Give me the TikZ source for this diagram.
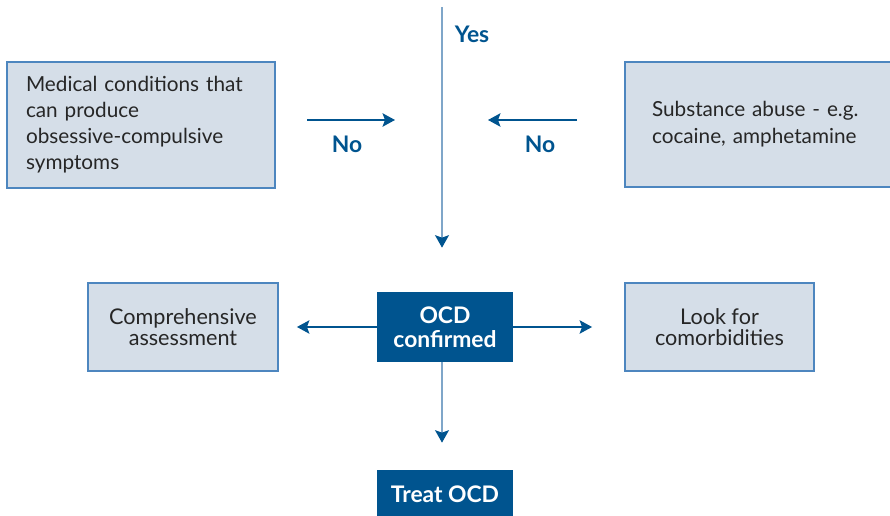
\documentclass[tikz,border=0pt]{standalone}
\usepackage{fontspec}
\setmainfont{Lato}
\usetikzlibrary{arrows.meta}
\definecolor{boxfill}{HTML}{D5DEE8}
\definecolor{boxline}{HTML}{4D86BF}
\definecolor{ocdblue}{HTML}{00548F}
\definecolor{vlineblue}{HTML}{7FA6C9}
\tikzset{
  lightbox/.style={draw=boxline, fill=boxfill, line width=1.1pt, text=black!85},
  darkbox/.style={fill=ocdblue, text=white, font=\fontsize{13}{13.5}\selectfont\bfseries, align=center},
  arr/.style={draw=ocdblue, line width=0.7pt, -{Stealth[length=0.25cm, width=0.27cm, inset=0.05cm]}},
  vline/.style={draw=vlineblue, line width=0.9pt, -{Stealth[length=0.25cm, width=0.28cm, inset=0.05cm, fill=ocdblue, color=ocdblue]}},
  answer/.style={text=ocdblue, font=\fontsize{13}{14}\selectfont\bfseries}
}
\begin{document}
\begin{tikzpicture}[x=0.02cm, y=-0.02cm]
    \useasboundingbox (0,0) rectangle (890,516);
    % question boxes
    \node [lightbox, minimum width=5.36cm, minimum height=2.52cm, text width=4.6cm, align=left,
           font=\fontsize{11.8}{14.8}\selectfont] (medical) at (141,125)
           {Medical conditions that\\can produce\\obsessive-compulsive\\symptoms};
    \node [lightbox, minimum width=5.34cm, minimum height=2.5cm, text width=4.26cm, align=left,
           font=\fontsize{11.8}{15.2}\selectfont] (substance) at (758.5,124.5)
           {Substance abuse - e.g.\\cocaine, amphetamine};
    \node [darkbox, minimum width=2.72cm, minimum height=1.4cm] (ocd) at (445,327) {OCD\\confirmed};
    \node [lightbox, minimum width=3.8cm, minimum height=1.76cm, align=center,
           font=\fontsize{12.3}{12}\selectfont] (assess) at (183,327) {Comprehensive\\assessment};
    \node [lightbox, minimum width=3.78cm, minimum height=1.76cm, align=center,
           font=\fontsize{12.3}{12}\selectfont] (comorb) at (719.5,327) {Look for\\comorbidities};
    \node [darkbox, minimum width=2.72cm, minimum height=0.96cm] (treat) at (445,494) {Treat OCD};
    % free ends
    \coordinate (top) at (442,7);
    \coordinate (noleftA) at (307,120);
    \coordinate (noleftB) at (395,120);
    \coordinate (norightA) at (577,120);
    \coordinate (norightB) at (488,120);
    % connectors
    \draw [vline, shorten >=0.88cm] (top) -- (top |- ocd.north);
    \draw [arr] (noleftA) -- (noleftB);
    \draw [arr] (norightA) -- (norightB);
    \draw [arr, shorten >=0.36cm] (ocd.west) -- (assess.east);
    \draw [arr, shorten >=0.64cm] (ocd.east) -- (comorb.west);
    \draw [vline, shorten >=0.54cm] (ocd.south -| top) -- (treat.north -| top);
    % answers
    \node [answer] (yes) at (472,34) {Yes};
    \node [answer] (noleft) at (347,144) {No};
    \node [answer] (noright) at (540,144) {No};
\end{tikzpicture}
\end{document}
